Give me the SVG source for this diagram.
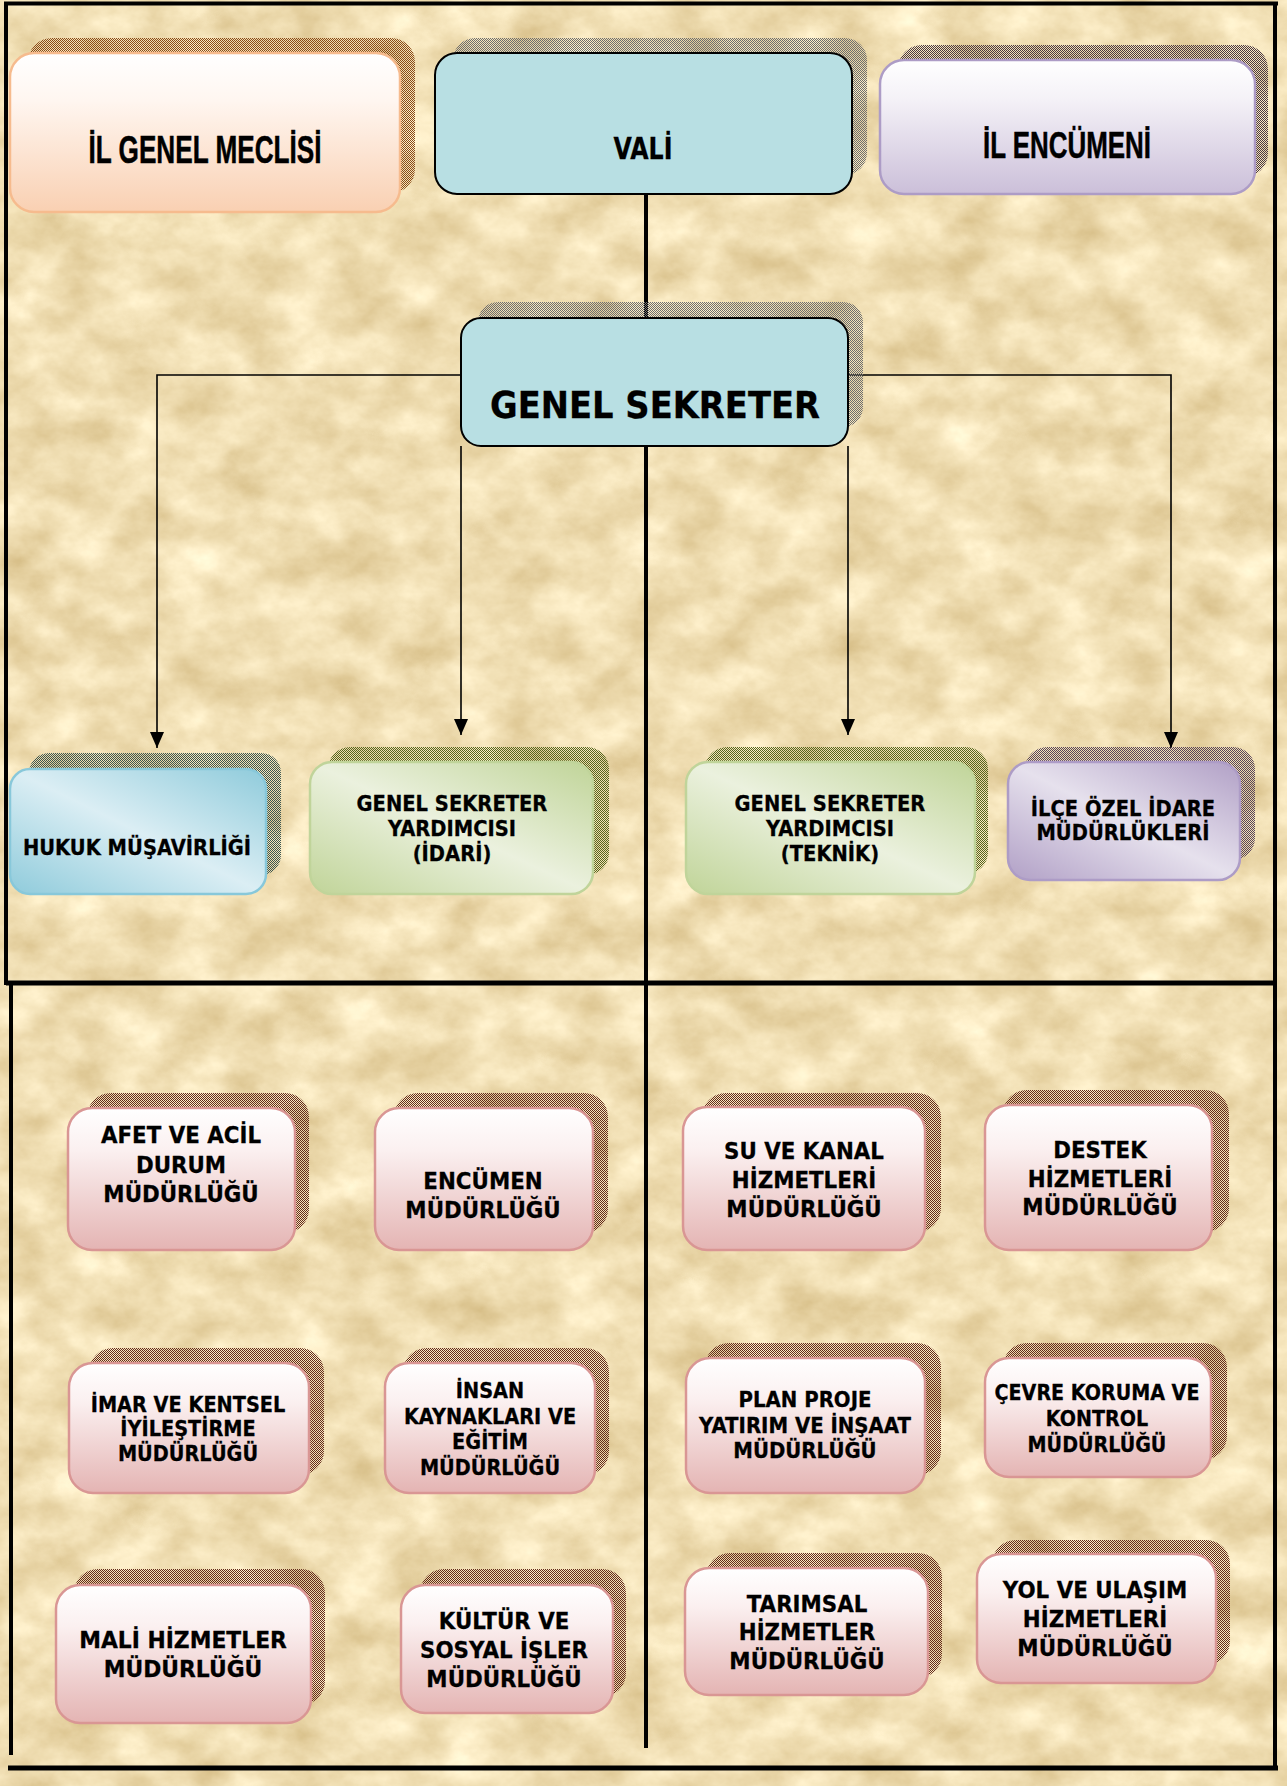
<svg xmlns="http://www.w3.org/2000/svg" width="1287" height="1786" viewBox="0 0 1287 1786">
<defs>
<style>
.t{font-family:"DejaVu Sans",Verdana,sans-serif;font-weight:bold;text-anchor:middle;fill:#000;stroke:#000;stroke-width:0.3}
.ta{font-family:"Liberation Sans",Arial,sans-serif;font-weight:bold;text-anchor:middle;fill:#000;stroke:#000;stroke-width:0.5}
.conn{stroke:#000;stroke-width:1.6;fill:none}
.frame{stroke:#000;fill:none}
.pink{fill:url(#gPink);stroke:#d99694;stroke-width:2.5}
.shP{fill:url(#dMaroon)}
.s21{font-size:21px}
.s23{font-size:23px}
</style>
<filter id="parch" x="0" y="0" width="1" height="1" color-interpolation-filters="sRGB">
<feTurbulence type="fractalNoise" baseFrequency="0.018 0.024" numOctaves="5" seed="7"/>
<feColorMatrix type="matrix" values="0.22 0 0 0 0.83  0.28 0 0 0 0.73  0.38 0 0 0 0.51  0 0 0 0 1"/>
</filter>
<linearGradient id="gMec" x1="0" y1="0" x2="0" y2="1"><stop offset="0" stop-color="#ffffff"/><stop offset="0.3" stop-color="#fff6f0"/><stop offset="1" stop-color="#f9d0b2"/></linearGradient>
<linearGradient id="gEnc" x1="0" y1="0" x2="0" y2="1"><stop offset="0" stop-color="#ffffff"/><stop offset="0.3" stop-color="#f4f1f7"/><stop offset="1" stop-color="#cbbfd9"/></linearGradient>
<linearGradient id="gPink" x1="0" y1="0" x2="0" y2="1"><stop offset="0" stop-color="#ffffff"/><stop offset="0.3" stop-color="#fbf0f0"/><stop offset="1" stop-color="#e4b4b3"/></linearGradient>
<linearGradient id="gBlue" x1="0" y1="1" x2="1" y2="0"><stop offset="0" stop-color="#8fcbdb"/><stop offset="0.5" stop-color="#dbeef4"/><stop offset="1" stop-color="#8fcbdb"/></linearGradient>
<linearGradient id="gGreen" x1="0" y1="1" x2="1" y2="0"><stop offset="0" stop-color="#c0d498"/><stop offset="0.5" stop-color="#ebf1de"/><stop offset="1" stop-color="#c0d498"/></linearGradient>
<linearGradient id="gPurple" x1="0" y1="1" x2="1" y2="0"><stop offset="0" stop-color="#b1a0c6"/><stop offset="0.5" stop-color="#e6e1ed"/><stop offset="1" stop-color="#b1a0c6"/></linearGradient>
<pattern id="dBrown" width="2" height="2" patternUnits="userSpaceOnUse"><rect width="1" height="1" fill="#8a4a18"/><rect x="1" y="1" width="1" height="1" fill="#8a4a18"/></pattern>
<pattern id="dGrey" width="2" height="2" patternUnits="userSpaceOnUse"><rect width="1" height="1" fill="#6e6e6e"/><rect x="1" y="1" width="1" height="1" fill="#6e6e6e"/></pattern>
<pattern id="dPurp" width="2" height="2" patternUnits="userSpaceOnUse"><rect width="1" height="1" fill="#4a3842"/><rect x="1" y="1" width="1" height="1" fill="#4a3842"/></pattern>
<pattern id="dTeal" width="2" height="2" patternUnits="userSpaceOnUse"><rect width="1" height="1" fill="#3c5650"/><rect x="1" y="1" width="1" height="1" fill="#3c5650"/></pattern>
<pattern id="dOlive" width="2" height="2" patternUnits="userSpaceOnUse"><rect width="1" height="1" fill="#56661e"/><rect x="1" y="1" width="1" height="1" fill="#56661e"/></pattern>
<pattern id="dMauve" width="2" height="2" patternUnits="userSpaceOnUse"><rect width="1" height="1" fill="#58445a"/><rect x="1" y="1" width="1" height="1" fill="#58445a"/></pattern>
<pattern id="dMaroon" width="2" height="2" patternUnits="userSpaceOnUse"><rect width="1" height="1" fill="#642a1c"/><rect x="1" y="1" width="1" height="1" fill="#642a1c"/></pattern>
<marker id="arr" markerUnits="userSpaceOnUse" markerWidth="16" markerHeight="14" refX="16" refY="7" orient="auto"><path d="M0,0 L16,7 L0,14 z" fill="#000"/></marker>
</defs>

<rect x="0" y="0" width="1287" height="1786" fill="#ecdab0"/>
<rect x="0" y="0" width="1287" height="1786" filter="url(#parch)"/>

<g id="frame" class="frame">
<line x1="4" y1="3.5" x2="1278" y2="3.5" stroke-width="4"/>
<line x1="6" y1="2" x2="6" y2="985" stroke-width="4"/>
<line x1="11" y1="983" x2="11" y2="1755" stroke-width="4"/>
<line x1="1275" y1="2" x2="1275" y2="1770" stroke-width="4"/>
<line x1="6" y1="983" x2="1277" y2="983" stroke-width="5"/>
<line x1="8" y1="1768" x2="1278" y2="1768" stroke-width="5"/>
</g>

<g id="connectors">
<line x1="646" y1="194" x2="646" y2="1748" stroke="#000" stroke-width="4"/>
<path class="conn" d="M461,375 H157 V748" marker-end="url(#arr)"/>
<path class="conn" d="M461,446 V735" marker-end="url(#arr)"/>
<path class="conn" d="M848,375 H1171 V748" marker-end="url(#arr)"/>
<path class="conn" d="M848,446 V735" marker-end="url(#arr)"/>
</g>

<g id="il-genel-meclisi">
<rect x="28" y="38" width="387" height="155" rx="24" fill="url(#dBrown)"/>
<rect x="10" y="53" width="390" height="159" rx="24" fill="url(#gMec)" stroke="#f6bb8e" stroke-width="2.5"/>
<text class="ta" x="205" y="163" font-size="38" textLength="233" lengthAdjust="spacingAndGlyphs">İL GENEL MECLİSİ</text>
</g>

<g id="vali">
<rect x="453" y="38" width="414" height="137" rx="22" fill="url(#dGrey)"/>
<rect x="435" y="53" width="417" height="141" rx="22" fill="#b8dfe3" stroke="#000" stroke-width="2"/>
<text class="t" x="643" y="159" font-size="31" textLength="59" lengthAdjust="spacingAndGlyphs">VALİ</text>
</g>

<g id="il-encumeni">
<rect x="898" y="45" width="370" height="132" rx="24" fill="url(#dPurp)"/>
<rect x="880" y="60" width="375" height="134" rx="24" fill="url(#gEnc)" stroke="#ad9cc6" stroke-width="2.5"/>
<text class="ta" x="1067" y="158" font-size="36" textLength="168" lengthAdjust="spacingAndGlyphs">İL ENCÜMENİ</text>
</g>

<g id="genel-sekreter">
<rect x="478" y="302" width="385" height="125" rx="20" fill="url(#dGrey)"/>
<rect x="461" y="318" width="387" height="128" rx="20" fill="#b8dfe3" stroke="#000" stroke-width="2"/>
<text class="t" x="655" y="418" font-size="37" textLength="330" lengthAdjust="spacingAndGlyphs">GENEL SEKRETER</text>
</g>

<g id="hukuk-musavirligi">
<rect x="29" y="753" width="252" height="122" rx="20" fill="url(#dTeal)"/>
<rect x="10" y="769" width="256" height="125" rx="20" fill="url(#gBlue)" stroke="#88c8da" stroke-width="2.5"/>
<g transform="translate(137 0) scale(0.93 1)"><text class="t s21" x="0" y="855">HUKUK MÜŞAVİRLİĞİ</text></g>
</g>

<g id="gsy-idari">
<rect x="328" y="747" width="281" height="128" rx="22" fill="url(#dOlive)"/>
<rect x="310" y="762" width="283" height="132" rx="22" fill="url(#gGreen)" stroke="#c0d49a" stroke-width="2.5"/>
<g transform="translate(452 0) scale(0.93 1)"><text class="t s21"><tspan x="0" y="811">GENEL SEKRETER</tspan><tspan x="0" y="836">YARDIMCISI</tspan><tspan x="0" y="861">(İDARİ)</tspan></text></g>
</g>

<g id="gsy-teknik">
<rect x="705" y="747" width="283" height="127" rx="22" fill="url(#dOlive)"/>
<rect x="686" y="762" width="289" height="132" rx="22" fill="url(#gGreen)" stroke="#c0d49a" stroke-width="2.5"/>
<g transform="translate(830 0) scale(0.93 1)"><text class="t s21"><tspan x="0" y="811">GENEL SEKRETER</tspan><tspan x="0" y="836">YARDIMCISI</tspan><tspan x="0" y="861">(TEKNİK)</tspan></text></g>
</g>

<g id="ilce-ozel-idare">
<rect x="1025" y="747" width="230" height="113" rx="22" fill="url(#dMauve)"/>
<rect x="1008" y="762" width="232" height="118" rx="22" fill="url(#gPurple)" stroke="#ad9cc6" stroke-width="2.5"/>
<g transform="translate(1123 0) scale(0.93 1)"><text class="t s21"><tspan x="0" y="816">İLÇE ÖZEL İDARE</tspan><tspan x="0" y="840">MÜDÜRLÜKLERİ</tspan></text></g>
</g>

<g id="afet">
<rect class="shP" x="87" y="1093" width="222" height="140" rx="24"/>
<rect class="pink" x="68" y="1108" width="227" height="142" rx="24"/>
<g transform="translate(181 0) scale(0.93 1)"><text class="t s23"><tspan x="0" y="1143">AFET VE ACİL</tspan><tspan x="0" y="1173">DURUM</tspan><tspan x="0" y="1202">MÜDÜRLÜĞÜ</tspan></text></g>
</g>

<g id="encumen">
<rect class="shP" x="394" y="1093" width="214" height="140" rx="24"/>
<rect class="pink" x="375" y="1108" width="218" height="142" rx="24"/>
<g transform="translate(483 0) scale(0.93 1)"><text class="t s23"><tspan x="0" y="1189">ENCÜMEN</tspan><tspan x="0" y="1218">MÜDÜRLÜĞÜ</tspan></text></g>
</g>

<g id="su-kanal">
<rect class="shP" x="702" y="1093" width="239" height="139" rx="24"/>
<rect class="pink" x="683" y="1107" width="242" height="143" rx="24"/>
<g transform="translate(804 0) scale(0.93 1)"><text class="t s23"><tspan x="0" y="1159">SU VE KANAL</tspan><tspan x="0" y="1188">HİZMETLERİ</tspan><tspan x="0" y="1217">MÜDÜRLÜĞÜ</tspan></text></g>
</g>

<g id="destek">
<rect class="shP" x="1003" y="1090" width="226" height="142" rx="24"/>
<rect class="pink" x="985" y="1105" width="227" height="145" rx="24"/>
<g transform="translate(1100 0) scale(0.93 1)"><text class="t s23"><tspan x="0" y="1158">DESTEK</tspan><tspan x="0" y="1187">HİZMETLERİ</tspan><tspan x="0" y="1215">MÜDÜRLÜĞÜ</tspan></text></g>
</g>

<g id="imar">
<rect class="shP" x="89" y="1348" width="235" height="127" rx="24"/>
<rect class="pink" x="69" y="1363" width="240" height="130" rx="24"/>
<g transform="translate(188 0) scale(0.92 1)"><text class="t s21"><tspan x="0" y="1412">İMAR VE KENTSEL</tspan><tspan x="0" y="1436">İYİLEŞTİRME</tspan><tspan x="0" y="1461">MÜDÜRLÜĞÜ</tspan></text></g>
</g>

<g id="insan-kaynaklari">
<rect class="shP" x="403" y="1348" width="206" height="127" rx="24"/>
<rect class="pink" x="385" y="1363" width="210" height="130" rx="24"/>
<g transform="translate(490 0) scale(0.92 1)"><text class="t s21"><tspan x="0" y="1398">İNSAN</tspan><tspan x="0" y="1424">KAYNAKLARI VE</tspan><tspan x="0" y="1449">EĞİTİM</tspan><tspan x="0" y="1475">MÜDÜRLÜĞÜ</tspan></text></g>
</g>

<g id="plan-proje">
<rect class="shP" x="705" y="1343" width="236" height="132" rx="24"/>
<rect class="pink" x="686" y="1358" width="239" height="135" rx="24"/>
<g transform="translate(805 0) scale(0.94 1)"><text class="t s21"><tspan x="0" y="1407">PLAN PROJE</tspan><tspan x="0" y="1433">YATIRIM VE İNŞAAT</tspan><tspan x="0" y="1458">MÜDÜRLÜĞÜ</tspan></text></g>
</g>

<g id="cevre">
<rect class="shP" x="1003" y="1343" width="224" height="117" rx="24"/>
<rect class="pink" x="985" y="1358" width="226" height="119" rx="24"/>
<g transform="translate(1097 0) scale(0.91 1)"><text class="t s21"><tspan x="0" y="1400">ÇEVRE KORUMA VE</tspan><tspan x="0" y="1426">KONTROL</tspan><tspan x="0" y="1452">MÜDÜRLÜĞÜ</tspan></text></g>
</g>

<g id="mali">
<rect class="shP" x="74" y="1569" width="251" height="136" rx="24"/>
<rect class="pink" x="56" y="1585" width="255" height="138" rx="24"/>
<g transform="translate(183 0) scale(0.95 1)"><text class="t s23"><tspan x="0" y="1648">MALİ HİZMETLER</tspan><tspan x="0" y="1677">MÜDÜRLÜĞÜ</tspan></text></g>
</g>

<g id="kultur">
<rect class="shP" x="420" y="1569" width="206" height="128" rx="24"/>
<rect class="pink" x="401" y="1585" width="212" height="128" rx="24"/>
<g transform="translate(504 0) scale(0.93 1)"><text class="t s23"><tspan x="0" y="1629">KÜLTÜR VE</tspan><tspan x="0" y="1658">SOSYAL İŞLER</tspan><tspan x="0" y="1687">MÜDÜRLÜĞÜ</tspan></text></g>
</g>

<g id="tarimsal">
<rect class="shP" x="706" y="1553" width="236" height="125" rx="24"/>
<rect class="pink" x="685" y="1568" width="243" height="127" rx="24"/>
<g transform="translate(807 0) scale(0.93 1)"><text class="t s23"><tspan x="0" y="1612">TARIMSAL</tspan><tspan x="0" y="1640">HİZMETLER</tspan><tspan x="0" y="1669">MÜDÜRLÜĞÜ</tspan></text></g>
</g>

<g id="yol-ulasim">
<rect class="shP" x="992" y="1540" width="238" height="125" rx="24"/>
<rect class="pink" x="977" y="1554" width="239" height="129" rx="24"/>
<g transform="translate(1095 0) scale(0.93 1)"><text class="t s23"><tspan x="0" y="1598">YOL VE ULAŞIM</tspan><tspan x="0" y="1627">HİZMETLERİ</tspan><tspan x="0" y="1656">MÜDÜRLÜĞÜ</tspan></text></g>
</g>
</svg>
